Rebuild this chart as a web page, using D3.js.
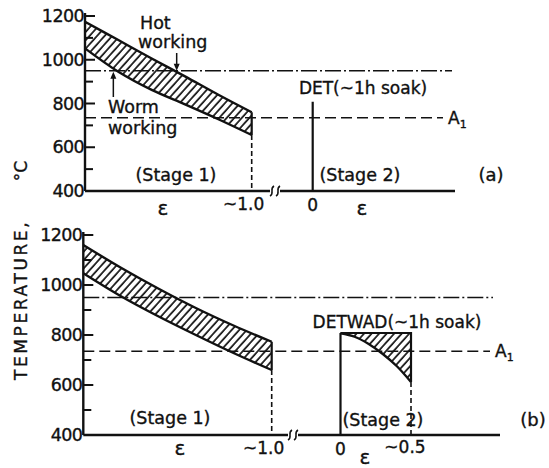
<!DOCTYPE html>
<html>
<head>
<meta charset="utf-8">
<script src="https://cdn.jsdelivr.net/npm/d3@7"></script>
<style>
  html, body { margin: 0; padding: 0; background: #fff; }
  svg { display: block; font-family: "DejaVu Sans", sans-serif; }
  svg text { stroke: #111; stroke-width: 0.35px; }
</style>
</head>
<body>
<svg id="chart" width="549" height="468"></svg>
<script>
// ── Data ─────────────────────────────────────────────────────
const majorTemps = [400, 600, 800, 1000, 1200];
const minorTemps = [500, 700, 900, 1100];
const hotWarmLimit = 950;   // dash-dot line
const a1Temp = 735;         // A1 dashed line

const stage1Strain = [0, 0.2, 0.4, 0.6, 0.8, 1.0];
const bandUpperA = [1174, 1090, 1006, 924, 840, 760];
const bandLowerA = [1052, 945, 862, 796, 728, 656];
const bandUpperB = [1160, 1069, 985, 907, 837, 773];
const bandLowerB = [1047, 955, 874, 799, 727, 660];

const stage2Strain = [0, 0.1, 0.2, 0.3, 0.4, 0.5];
const soakTemp = 808;
const detwadCurve = [807, 793, 764, 724, 675, 612];

// ── Layout per panel ─────────────────────────────────────────
const panels = [
  { id: "a", y: [191, 16], s1: [85, 251.7], s2: [312.7, 383.2], axisEnd: 455, brk: 275,
    upper: bandUpperA, lower: bandLowerA, lineEnd: 452, a1End: 443 },
  { id: "b", y: [435, 235], s1: [83.3, 271.7], s2: [340.5, 411], axisEnd: 500, brk: 293,
    upper: bandUpperB, lower: bandLowerB, lineEnd: 493, a1End: 490 },
];

const svg = d3.select("#chart");
const defs = svg.append("defs");
defs.append("pattern")
  .attr("id", "hatch")
  .attr("patternUnits", "userSpaceOnUse")
  .attr("width", 5.6).attr("height", 10)
  .attr("patternTransform", "rotate(42)")
  .append("line")
  .attr("x1", 1).attr("y1", 0).attr("x2", 1).attr("y2", 10)
  .attr("stroke", "#111").attr("stroke-width", 1.7);

const smooth = d3.curveCatmullRom.alpha(0.5);

function txt(g, x, y, s, size, anchor) {
  return g.append("text")
    .attr("x", x).attr("y", y).attr("dy", "0.35em")
    .attr("font-size", size).attr("text-anchor", anchor || "middle")
    .attr("fill", "#111").text(s);
}

function arrow(g, x, yFrom, yTo) {
  const dir = yTo > yFrom ? 1 : -1;
  g.append("line").attr("x1", x).attr("x2", x).attr("y1", yFrom).attr("y2", yTo - dir * 4)
    .attr("stroke", "#111").attr("stroke-width", 1.5);
  g.append("path")
    .attr("d", `M${x - 3},${yTo - dir * 7}L${x},${yTo}L${x + 3},${yTo - dir * 7}Z`)
    .attr("fill", "#111");
}

panels.forEach((p) => {
  const g = svg.append("g");
  const y = d3.scaleLinear().domain([400, 1200]).range(p.y);
  const x1 = d3.scaleLinear().domain([0, 1]).range(p.s1);
  const x2 = d3.scaleLinear().domain([0, 0.5]).range(p.s2);
  const x0 = p.s1[0];
  const base = y(400);

  // Reference lines
  g.append("line").attr("x1", x0).attr("x2", p.lineEnd)
    .attr("y1", y(hotWarmLimit)).attr("y2", y(hotWarmLimit))
    .attr("stroke", "#111").attr("stroke-width", 1.6)
    .attr("stroke-dasharray", "16 3 2 3");
  g.append("line").attr("x1", x0).attr("x2", p.a1End)
    .attr("y1", y(a1Temp)).attr("y2", y(a1Temp))
    .attr("stroke", "#111").attr("stroke-width", 1.6)
    .attr("stroke-dasharray", "11 5");
  const a1 = g.append("text").attr("x", p.a1End + 5).attr("y", y(a1Temp)).attr("dy", "0.35em")
    .attr("font-size", 17).attr("fill", "#111");
  a1.append("tspan").text("A");
  a1.append("tspan").attr("font-size", 11).attr("dy", "4").text("1");

  // Stage 1 band
  const band = stage1Strain.map((e, i) => ({ e, hi: p.upper[i], lo: p.lower[i] }));
  g.append("path").datum(band)
    .attr("d", d3.area().curve(smooth)
      .x((d) => x1(d.e)).y0((d) => y(d.lo)).y1((d) => y(d.hi)))
    .attr("fill", "url(#hatch)");
  ["hi", "lo"].forEach((k) => {
    g.append("path").datum(band)
      .attr("d", d3.line().curve(smooth).x((d) => x1(d.e)).y((d) => y(d[k])))
      .attr("fill", "none").attr("stroke", "#111").attr("stroke-width", 2.4);
  });
  const last = band[band.length - 1];
  g.append("line").attr("x1", x1(1)).attr("x2", x1(1))
    .attr("y1", y(last.hi)).attr("y2", y(last.lo))
    .attr("stroke", "#111").attr("stroke-width", 2.2);
  g.append("line").attr("x1", x1(1)).attr("x2", x1(1))
    .attr("y1", y(last.lo)).attr("y2", base)
    .attr("stroke", "#111").attr("stroke-width", 1.6).attr("stroke-dasharray", "5 3");

  // Stage 2
  g.append("line").attr("x1", x2(0)).attr("x2", x2(0))
    .attr("y1", base).attr("y2", y(soakTemp))
    .attr("stroke", "#111").attr("stroke-width", 2.2);

  if (p.id === "b") {
    const dome = stage2Strain.map((e, i) => ({ e, t: detwadCurve[i] }));
    g.append("path").datum(dome)
      .attr("d", d3.area().curve(smooth)
        .x((d) => x2(d.e)).y0((d) => y(d.t)).y1(y(soakTemp)))
      .attr("fill", "url(#hatch)");
    g.append("path").datum(dome)
      .attr("d", d3.line().curve(smooth).x((d) => x2(d.e)).y((d) => y(d.t)))
      .attr("fill", "none").attr("stroke", "#111").attr("stroke-width", 2.4);
    g.append("path")
      .attr("d", `M${x2(0)},${y(soakTemp)}H${x2(0.5)}V${y(detwadCurve[detwadCurve.length - 1])}`)
      .attr("fill", "none").attr("stroke", "#111").attr("stroke-width", 2.2);
    g.append("line").attr("x1", x2(0.5)).attr("x2", x2(0.5))
      .attr("y1", y(detwadCurve[detwadCurve.length - 1])).attr("y2", base)
      .attr("stroke", "#111").attr("stroke-width", 1.6).attr("stroke-dasharray", "5 3");
  }

  // Axes
  g.append("line").attr("x1", x0).attr("x2", x0).attr("y1", base).attr("y2", y(1200) - 3)
    .attr("stroke", "#111").attr("stroke-width", 2.4);
  g.append("line").attr("x1", x0).attr("x2", p.axisEnd).attr("y1", base).attr("y2", base)
    .attr("stroke", "#111").attr("stroke-width", 2.4);
  g.selectAll("line.major").data(majorTemps.filter((t) => t > 400)).join("line")
    .attr("x1", x0).attr("x2", x0 + 10).attr("y1", (d) => y(d)).attr("y2", (d) => y(d))
    .attr("stroke", "#111").attr("stroke-width", 2);
  g.selectAll("line.minor").data(minorTemps).join("line")
    .attr("x1", x0).attr("x2", x0 + 8).attr("y1", (d) => y(d)).attr("y2", (d) => y(d))
    .attr("stroke", "#111").attr("stroke-width", 2);
  g.selectAll("text.tick").data(majorTemps).join("text")
    .attr("x", x0 - 1).attr("y", (d) => y(d)).attr("dy", "0.35em")
    .attr("text-anchor", "end").attr("font-size", 17.5).attr("letter-spacing", -0.6)
    .attr("fill", "#111").text((d) => d);

  // Axis break
  g.append("rect").attr("x", p.brk - 5).attr("y", base - 3).attr("width", 10).attr("height", 6)
    .attr("fill", "#fff");
  [-3, 3].forEach((dx) => {
    const bx = p.brk + dx;
    g.append("path")
      .attr("d", `M${bx - 2},${base + 5}C${bx + 3},${base + 2} ${bx - 3},${base - 2} ${bx + 2},${base - 5}`)
      .attr("fill", "none").attr("stroke", "#111").attr("stroke-width", 1.5);
  });

  // Strain labels
  txt(g, x1(1) - 8, base + 13, "~1.0", 17);
  txt(g, x2(0), base + 14, "0", 17);

  if (p.id === "a") {
    txt(g, 163, base + 17, "ε", 20);
    txt(g, 362, base + 17, "ε", 20);
    txt(g, 140, 23, "Hot", 17.5, "start");
    txt(g, 138, 42, "working", 17.5, "start");
    txt(g, 108, 107, "Worm", 17.5, "start");
    txt(g, 108, 128, "working", 17.5, "start");
    arrow(g, x1(0.55), 53, y(hotWarmLimit));
    arrow(g, x1(0.17), 97, y(hotWarmLimit) + 1);
    txt(g, 363, 88, "DET(~1h soak)", 17);
    txt(g, 176, 175, "(Stage 1)", 17.5);
    txt(g, 360, 175, "(Stage 2)", 17.5);
    txt(g, 491, 175, "(a)", 18);
  } else {
    txt(g, 180, base + 13, "ε", 20);
    txt(g, 365, base + 22, "ε", 20);
    txt(g, x2(0.5) - 6, base + 12, "~0.5", 17);
    txt(g, 397, 322, "DETWAD(~1h soak)", 17);
    txt(g, 170, 418, "(Stage 1)", 17.5);
    txt(g, 383, 420, "(Stage 2)", 17.5);
    txt(g, 533, 420, "(b)", 18);
  }
});

// Shared y label
svg.append("text").attr("transform", "translate(21,380) rotate(-90)")
  .attr("dy", "0.35em").attr("font-size", 17).attr("letter-spacing", 2.6)
  .attr("fill", "#111").text("TEMPERATURE,");
svg.append("text").attr("transform", "translate(21,171) rotate(-90)")
  .attr("dy", "0.35em").attr("text-anchor", "middle").attr("font-size", 17)
  .attr("fill", "#111").text("°C");
</script>
</body>
</html>
